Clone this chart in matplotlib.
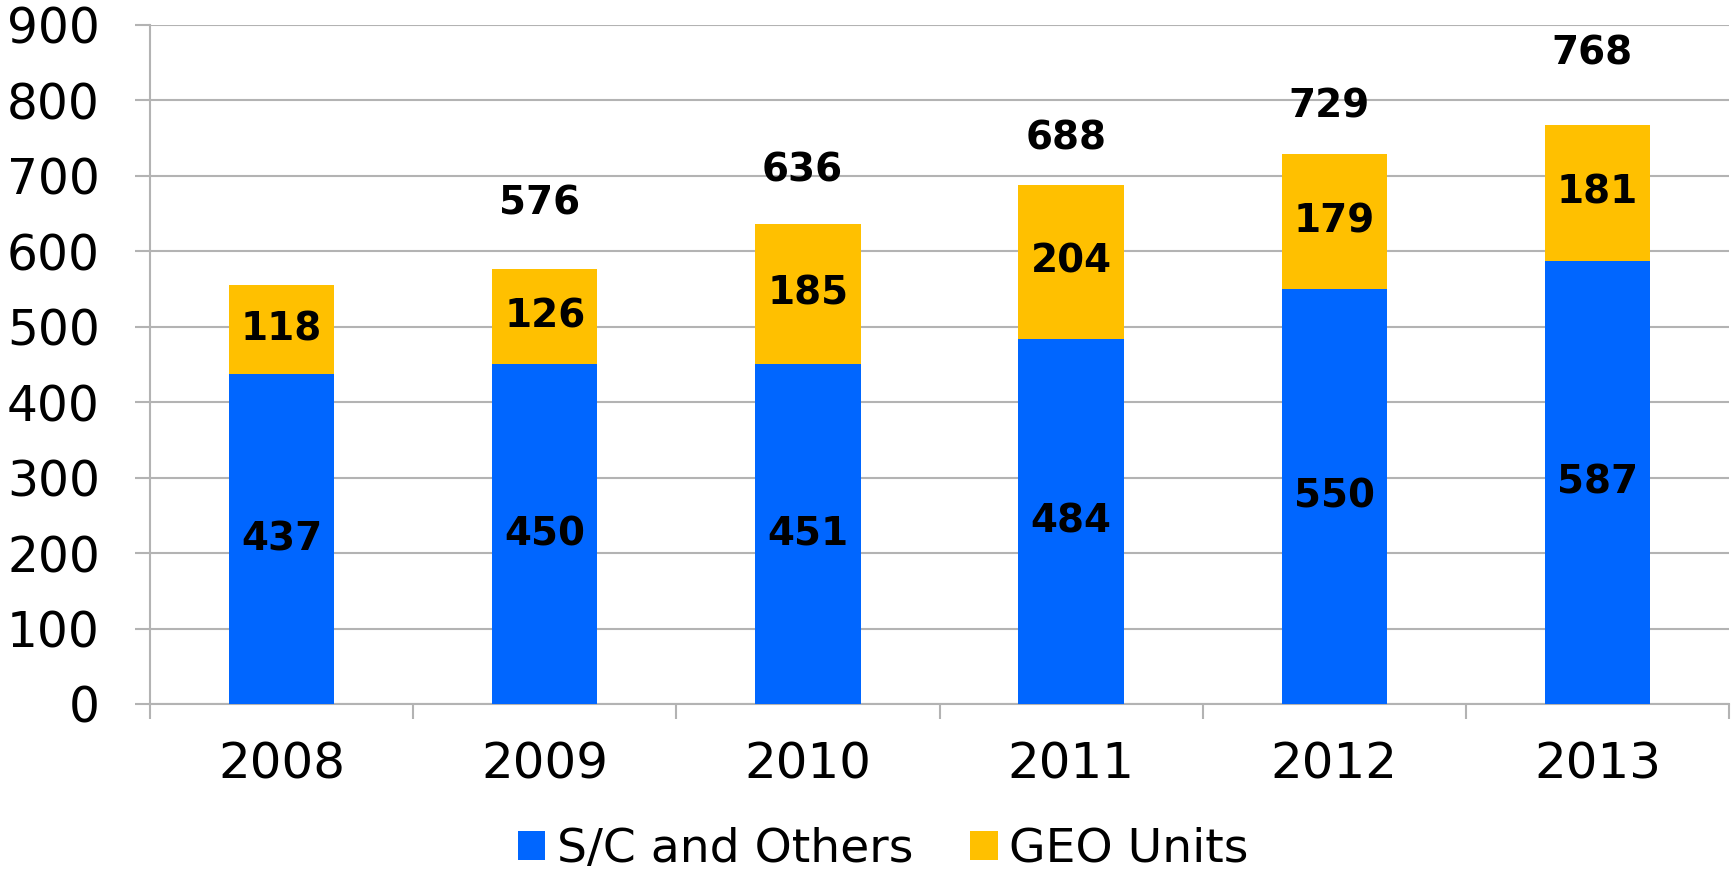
#----- importing modules -----
import matplotlib.pyplot as plt
import numpy as np

#----- data -----
years = ['2008', '2009', '2010', '2011', '2012', '2013']
sc_others = [437, 450, 451, 484, 550, 587]
geo_units = [118, 126, 185, 204, 179, 181]
# totals shown above the bars (2008 has no label in the original)
totals = [None, 576, 636, 688, 729, 768]
total_pad = [0, 87, 71, 61, 63, 94]

blue = '#0066FF'
yellow = '#FFC000'
grid_col = '#B3B3B3'

fig = plt.figure(figsize=(17.32, 8.73), dpi=100)
ax = fig.add_axes([0.0866, 0.1936, 0.9117, 0.7778])

x = np.arange(len(years))
ax.bar(x, sc_others, width=0.4, color=blue, label='S/C and Others', zorder=3)
ax.bar(x, geo_units, width=0.4, bottom=sc_others, color=yellow, label='GEO Units', zorder=3)

#----- labels inside the bars -----
for i in range(len(years)):
    ax.text(x[i], sc_others[i] / 2, str(sc_others[i]), ha='center', va='center',
            fontsize=28, fontweight='bold', zorder=4)
    ax.text(x[i], sc_others[i] + geo_units[i] / 2, str(geo_units[i]), ha='center', va='center',
            fontsize=28, fontweight='bold', zorder=4)
    if totals[i] is not None:
        ax.text(x[i] - 0.02, totals[i] + total_pad[i], str(totals[i]), ha='center', va='center',
                fontsize=28, fontweight='bold', zorder=4)

#----- axes styling -----
ax.set_xlim(-0.5, len(years) - 0.5)
ax.set_ylim(0, 900)
ax.set_yticks(range(0, 901, 100))
ax.yaxis.grid(True, color=grid_col, linewidth=1.5, zorder=0)
ax.set_axisbelow(True)
for s in ['top', 'right']:
    ax.spines[s].set_visible(False)
ax.spines['left'].set_color(grid_col)
ax.spines['bottom'].set_color(grid_col)
ax.spines['left'].set_linewidth(1.5)
ax.spines['bottom'].set_linewidth(1.5)

ax.set_xticks(x)
ax.set_xticklabels(years)
ax.set_xticks(np.arange(-0.5, len(years), 1), minor=True)
ax.tick_params(axis='x', which='major', length=0, pad=26, labelsize=36)
ax.tick_params(axis='x', which='minor', length=11, width=1.5, color=grid_col)
ax.tick_params(axis='y', length=11, width=1.5, color=grid_col, pad=25, labelsize=35)

fig.legend(loc='center', bbox_to_anchor=(0.51, 0.027), ncol=2, frameon=False,
           fontsize=34, handlelength=0.58, handleheight=0.58, handletextpad=0.25,
           columnspacing=1.2)

fig.savefig('out.png', dpi=100)
